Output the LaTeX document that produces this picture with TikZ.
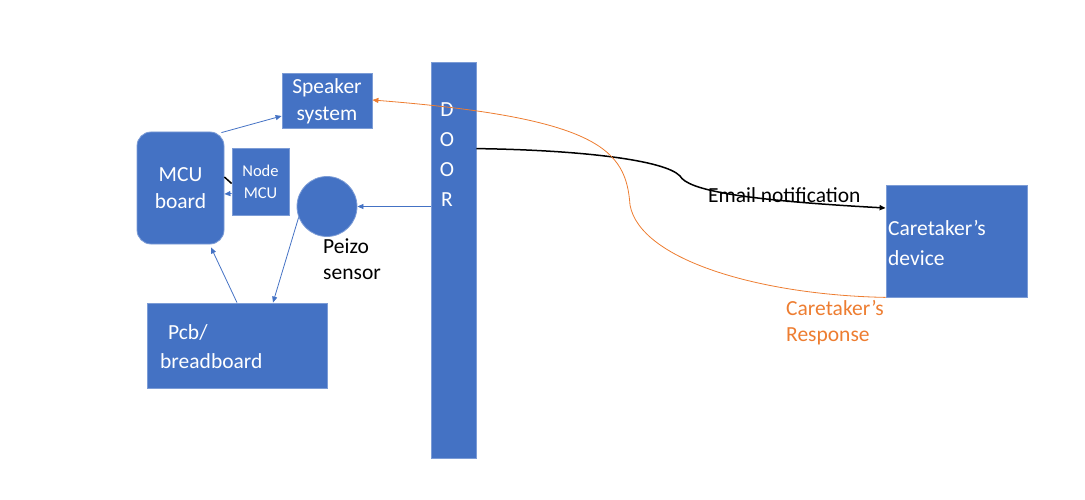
\documentclass[tikz,border=0pt]{standalone}
\usepackage{fontspec}
\setmainfont{Carlito}
\usetikzlibrary{arrows.meta,calc}
\definecolor{boxblue}{HTML}{4472C4}
\definecolor{orng}{HTML}{ED7D31}
\begin{document}
\begin{tikzpicture}[x=1pt,y=-1pt,
  blk/.style={fill=boxblue, draw=boxblue!70!white, line width=0.8pt, inner sep=0pt},
  wtxt/.style={text=white, font=\fontsize{21.5}{27}\selectfont, align=center},
  ltxt/.style={font=\fontsize{21.5}{26}\selectfont, align=left, inner sep=0pt, anchor=west},
  tip/.style={-{Triangle[length=6pt,width=5pt]}},
  barrow/.style={draw=boxblue, line width=0.8pt, tip},
  ]
\useasboundingbox (0,0) rectangle (1085,500);
% boxes
\node[blk, wtxt, minimum width=90pt, minimum height=55pt] (spk) at (327,101) {Speaker\\system};
\node[blk, wtxt, rounded corners=14pt, minimum width=87pt, minimum height=112pt] (mcu) at (180.5,188) {MCU\\board};
\node[blk, wtxt, font=\fontsize{16.5}{22}\selectfont, minimum width=57pt, minimum height=67pt] (nmcu) at (260.5,181.5) {Node\\MCU};
\node[blk, circle, minimum size=60pt] (pz) at (327,206.5) {};
\node[blk, minimum width=180pt, minimum height=85pt] (pcb) at (237,345.5) {};
\node[ltxt, text=white, font=\fontsize{21.5}{29}\selectfont] (pcbt) at (160,347) {\hspace{8pt}Pcb/\\breadboard};
\node[blk, minimum width=45pt, minimum height=396pt] (door) at (453.5,260) {};
\node[wtxt, font=\fontsize{21.5}{30}\selectfont, inner sep=0pt] (doort) at (447,155) {D\\O\\O\\R};
\node[blk, minimum width=141pt, minimum height=112pt] (dev) at (956.5,241) {};
\node[ltxt, text=white, font=\fontsize{21.5}{30}\selectfont] (devt) at (888,243) {Caretaker’s\\device};
% labels
\node[ltxt] (pzl) at (323,259) {Peizo\\sensor};
\node[ltxt] (em) at (708,195) {Email notification};
\node[ltxt, text=orng] (resp) at (786,323) {Caretaker’s\\Response};
% connectors
\draw[barrow] ($(mcu.north east)+(-3,1)$) -- ($(spk.west)+(0,15)$);
\draw[black, line width=1.5pt] ($(mcu.east)+(0,-11)$) -- ($(nmcu.west)+(0,2)$);
\draw[barrow] ($(nmcu.west)+(0,12)$) -- ($(mcu.east)+(0,6)$);
\draw[barrow] (door.west |- pz) -- (pz.east);
\draw[barrow] (pz.201) -- ($(pcb.north)+(36,0)$);
\draw[barrow] (pcb.north) -- ($(mcu.south)+(30.5,3)$);
\coordinate (s1) at ($(door.north east)+(0,87)$);
\coordinate (e1) at ($(dev.west)+(0,-33)$);
\draw[black, line width=1.5pt, tip] (s1) .. controls (580,150) and (665,160) .. (680,176)
   .. controls (688,190) and (740,200) .. (e1);
\coordinate (e2) at ($(spk.east)+(0,-1)$);
\draw[orng, line width=0.8pt, tip] (dev.south west) .. controls (760,295) and (640,260) .. (630,205)
   .. controls (626,150) and (600,118) .. (e2);
\end{tikzpicture}
\end{document}
